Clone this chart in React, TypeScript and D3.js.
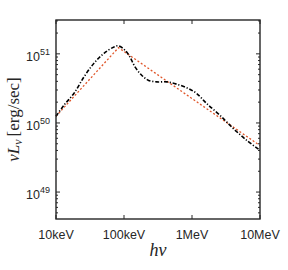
import { useEffect, useRef } from 'react';
import * as d3 from 'd3';

const WIDTH = 288;
const HEIGHT = 270;
const MARGIN = { top: 20, right: 28, bottom: 51, left: 56 };

// photon energy (keV) and nuL_nu (erg/s) of the model curve
const energyKeV = [10, 13.1, 18.4, 25.8, 36.2, 50.8, 71.3, 83, 103.5, 122, 145, 182, 227, 303, 425, 596, 883, 1172, 1644, 2580, 4050, 6370, 10000];
const nuLnuModel = [1.25e50, 1.81e50, 2.69e50, 4.64e50, 7.33e50, 1.02e51, 1.26e51, 1.31e51, 1.13e51, 9.06e50, 6.49e50, 4.91e50, 4.16e50, 3.93e50, 3.93e50, 3.64e50, 3.15e50, 2.67e50, 1.91e50, 1.29e50, 8.3e49, 5.61e49, 4.02e49];

// broken power law fit
const fitEnergyKeV = [10, 83, 10000];
const fitNuLnu = [1.25e50, 1.23e51, 4.7e49];

const xTicks = [10, 100, 1000, 10000];
const xTickLabels = ['10keV', '100keV', '1MeV', '10MeV'];
const yTicks = [1e49, 1e50, 1e51];
const yTickExps = ['49', '50', '51'];

type Pt = { e: number; l: number };

const App = () => {
  const axesRef = useRef(null);
  const boundsWidth = WIDTH - MARGIN.left - MARGIN.right;
  const boundsHeight = HEIGHT - MARGIN.top - MARGIN.bottom;

  const xScale = d3.scaleLog().domain([10, 10000]).range([0, boundsWidth]);
  const yScale = d3
    .scaleLog()
    .domain([Math.pow(10, 48.61), Math.pow(10, 51.49)])
    .range([boundsHeight, 0]);

  const model: Pt[] = energyKeV.map((e, i) => ({ e, l: nuLnuModel[i] }));
  const fit: Pt[] = fitEnergyKeV.map((e, i) => ({ e, l: fitNuLnu[i] }));

  const curve = d3
    .line<Pt>()
    .x((d) => xScale(d.e))
    .y((d) => yScale(d.l))
    .curve(d3.curveCatmullRom.alpha(0.5));
  const straight = d3
    .line<Pt>()
    .x((d) => xScale(d.e))
    .y((d) => yScale(d.l));

  // box, ticks drawn with d3
  useEffect(() => {
    const g = d3.select(axesRef.current);
    g.selectAll('*').remove();
    const col = '#262626';

    // minor y ticks (log)
    const [y0, y1] = yScale.domain();
    const minor: number[] = [];
    for (let p = 48; p <= 51; p++) {
      for (let m = 1; m <= 9; m++) {
        const v = m * Math.pow(10, p);
        if (v >= y0 && v <= y1) minor.push(v);
      }
    }
    minor.forEach((v) => {
      const len = yTicks.includes(v) ? 4 : 2;
      const y = yScale(v);
      g.append('line').attr('x1', 0).attr('x2', len).attr('y1', y).attr('y2', y).attr('stroke', col);
      g.append('line').attr('x1', boundsWidth).attr('x2', boundsWidth - len).attr('y1', y).attr('y2', y).attr('stroke', col);
    });

    xTicks.forEach((v) => {
      const x = xScale(v);
      g.append('line').attr('x1', x).attr('x2', x).attr('y1', boundsHeight).attr('y2', boundsHeight - 4).attr('stroke', col);
      g.append('line').attr('x1', x).attr('x2', x).attr('y1', 0).attr('y2', 4).attr('stroke', col);
    });

    g.append('rect')
      .attr('x', 0)
      .attr('y', 0)
      .attr('width', boundsWidth)
      .attr('height', boundsHeight)
      .attr('fill', 'none')
      .attr('stroke', col)
      .attr('stroke-width', 1.4);

    xTicks.forEach((v, i) => {
      g.append('text')
        .attr('x', xScale(v))
        .attr('y', boundsHeight + 20)
        .attr('text-anchor', 'middle')
        .attr('font-family', 'Liberation Sans, Arial, sans-serif')
        .attr('font-size', 12.5)
        .attr('fill', col)
        .text(xTickLabels[i]);
    });

    yTicks.forEach((v, i) => {
      const t = g
        .append('text')
        .attr('x', -6)
        .attr('y', yScale(v) + 7)
        .attr('text-anchor', 'end')
        .attr('font-family', 'Liberation Sans, Arial, sans-serif')
        .attr('font-size', 12.5)
        .attr('fill', col);
      t.append('tspan').text('10');
      t.append('tspan').attr('dy', -6).attr('font-size', 9).text(yTickExps[i]);
    });
  }, [xScale, yScale, boundsWidth, boundsHeight]);

  return (
    <svg width={WIDTH} height={HEIGHT} style={{ position: 'absolute', left: 0, top: 0, background: '#fff' }}>
      <g transform={`translate(${MARGIN.left},${MARGIN.top})`}>
        <path d={straight(fit) || ''} fill="none" stroke="#e0562a" strokeWidth={1.3} strokeDasharray="2,2" />
        <path d={curve(model) || ''} fill="none" stroke="#000" strokeWidth={1.6} strokeDasharray="4,1.8,1.2,1.8" />
      </g>
      <g ref={axesRef} transform={`translate(${MARGIN.left},${MARGIN.top})`} />
      <text
        x={MARGIN.left + boundsWidth / 2}
        y={256}
        textAnchor="middle"
        fontFamily="Liberation Serif, serif"
        fontStyle="italic"
        fontSize={18}
        fill="#262626"
      >
        hν
      </text>
      <text
        transform={`translate(19,${MARGIN.top + boundsHeight / 2}) rotate(-90)`}
        textAnchor="middle"
        fontFamily="Liberation Serif, serif"
        fontSize={17}
        fill="#262626"
      >
        <tspan fontStyle="italic">νL</tspan>
        <tspan fontStyle="italic" fontSize={12} dy={3}>ν</tspan>
        <tspan dy={-3} dx={3}>[erg/sec]</tspan>
      </text>
    </svg>
  );
};

export default App;
